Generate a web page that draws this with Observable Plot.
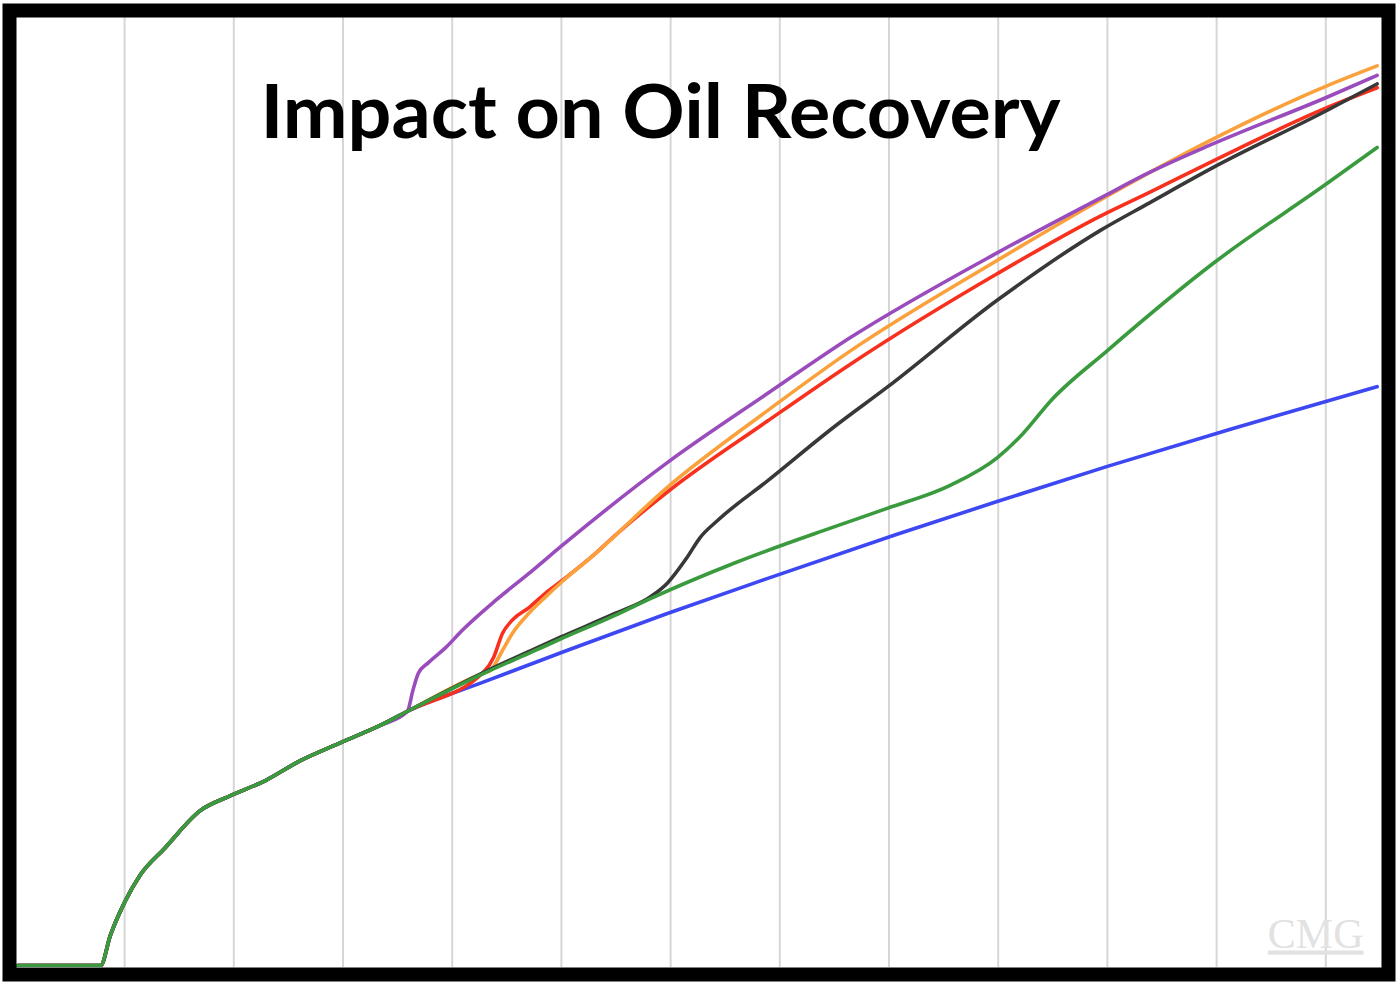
<!DOCTYPE html>
<html>
<head>
<meta charset="utf-8">
<script src="https://cdn.jsdelivr.net/npm/d3@7"></script>
<script src="https://cdn.jsdelivr.net/npm/@observablehq/plot@0.6"></script>
<style>
  html, body { margin: 0; padding: 0; background: #fff; }
  #chart { position: absolute; left: 0; top: 0; }
</style>
</head>
<body>
<div id="chart"></div>
<script>
// Title and watermark
const titleText = "Impact on Oil Recovery";
const watermarkText = "CMG";

// Vertical gridlines (time units)
const gridTicks = [1, 2, 3, 4, 5, 6, 7, 8, 9, 10, 11, 12];

// Shared early history (all cases identical)
const sharedX = [0.02, 0.78, 0.87, 1.01, 1.14, 1.37, 1.69, 1.97, 2.29, 2.61, 2.98, 3.34, 3.59];
const sharedY = [0.1, 0.1, 3.3, 7.0, 9.6, 12.5, 16.4, 18.0, 19.6, 21.7, 23.6, 25.4, 26.9];

// Case continuations
const blueX   = [4.29, 5.05, 5.97, 6.89, 8.06, 8.99, 10.0, 11.15, 12.47];
const blueY   = [30.0, 33.3, 37.2, 40.9, 45.5, 49.0, 52.7, 56.7, 61.1];

const greenX  = [4.29, 4.74, 4.99, 5.49, 5.82, 6.58, 7.49, 7.99, 8.56, 8.99, 9.23, 9.48, 10.0, 10.97, 12.01, 12.47];
const greenY  = [30.9, 33.2, 34.5, 37.0, 38.8, 42.5, 46.3, 48.3, 50.7, 53.6, 56.2, 59.6, 64.9, 74.1, 82.5, 86.3];

const blackX  = [4.29, 4.74, 4.99, 5.49, 5.82, 5.97, 6.15, 6.27, 6.43, 6.89, 7.49, 7.99, 8.99, 9.94, 10.39, 10.97, 12.01, 12.47];
const blackY  = [31.0, 33.4, 34.7, 37.2, 39.0, 40.4, 43.1, 45.2, 47.0, 51.2, 56.8, 61.1, 70.2, 77.6, 80.5, 84.2, 90.2, 93.0];

const redX    = [4.30, 4.38, 4.46, 4.55, 4.70, 4.85, 5.01, 5.31, 5.49, 5.97, 6.89, 7.65, 8.99, 9.94, 10.39, 10.97, 12.01, 12.47];
const redY    = [31.2, 32.6, 35.1, 36.5, 37.8, 39.3, 40.7, 43.5, 45.4, 50.0, 57.5, 63.5, 73.0, 79.1, 81.6, 84.9, 90.5, 92.6];

const orangeX = [4.29, 4.35, 4.46, 4.55, 4.70, 4.85, 5.01, 5.31, 5.97, 6.89, 7.65, 8.99, 9.94, 10.97, 12.01, 12.47];
const orangeY = [30.95, 31.2, 33.3, 35.1, 37.2, 38.9, 40.6, 43.5, 50.5, 58.6, 64.9, 74.4, 80.8, 87.2, 92.8, 94.9];

const purpleX = [3.64, 3.69, 3.78, 3.94, 4.09, 4.40, 4.70, 5.01, 5.97, 6.89, 7.65, 8.99, 9.94, 10.39, 10.97, 12.01, 12.47];
const purpleY = [29.1, 30.9, 32.0, 33.6, 35.4, 38.6, 41.4, 44.4, 53.1, 60.4, 66.3, 75.2, 81.0, 83.7, 86.7, 91.6, 93.9];

// Draw order (last on top) and colours
const seriesNames  = ["blue", "red", "orange", "purple", "black", "green"];
const seriesColors = ["#3d48f2", "#f8301e", "#fba13c", "#9a4cbd", "#383838", "#3a9a3e"];
const seriesX = {blue: blueX, red: redX, orange: orangeX, purple: purpleX, black: blackX, green: greenX};
const seriesY = {blue: blueY, red: redY, orange: orangeY, purple: purpleY, black: blackY, green: greenY};

const tables = seriesNames.map(name => {
  const xs = sharedX.concat(seriesX[name]);
  const ys = sharedY.concat(seriesY[name]);
  return xs.map((x, i) => ({case: "case " + name, x, y: ys[i]}));
});

const plot = Plot.plot({
  width: 1400,
  height: 985,
  marginLeft: 16,
  marginRight: 19,
  marginTop: 17,
  marginBottom: 18,
  x: {domain: [0.01, 12.51], axis: null},
  y: {domain: [-0.1, 100], axis: null},
  style: {background: "#fff"},
  marks: [
    Plot.ruleX(gridTicks, {stroke: "#d6d6d6", strokeWidth: 2}),
    Plot.text([watermarkText], {frameAnchor: "bottom-right", dx: -18, dy: -20, text: d => d,
      fontFamily: "Liberation Serif", fontSize: 42, fill: "#e2e2e2", textAnchor: "end", lineAnchor: "bottom",
      className: "watermark"}),
    ...tables.map((t, i) =>
      Plot.line(t, {
        x: "x", y: "y", stroke: seriesColors[i], strokeWidth: 3.6, curve: "monotone-x", clip: true
      })
    ),
    Plot.text([titleText], {frameAnchor: "top-left", dx: 244, dy: 68, text: d => d,
      fontFamily: "Lato", fontWeight: 700, fontSize: 74, fill: "#000", textAnchor: "start", lineAnchor: "top",
      className: "title"}),
    Plot.frame({stroke: "#000", strokeWidth: 14, inset: -7})
  ]
});
document.getElementById("chart").appendChild(plot);

// Fit the title to the reference width and underline the watermark
d3.select(plot).selectAll(".title text").attr("textLength", 800).attr("lengthAdjust", "spacingAndGlyphs");
d3.select(plot).selectAll(".watermark text").style("text-decoration", "underline");
</script>
</body>
</html>
